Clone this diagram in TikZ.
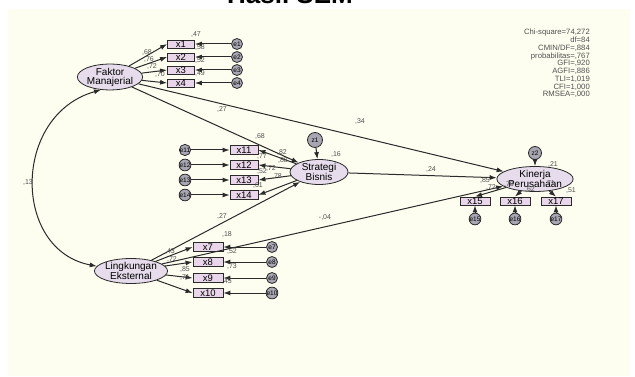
\documentclass[tikz,border=0pt]{standalone}
\usepackage{fontspec}
\setmainfont{Liberation Sans}
\usetikzlibrary{shapes.geometric,arrows.meta}
\definecolor{panel}{HTML}{FEFEF0}
\definecolor{latfill}{HTML}{E6DCEC}
\definecolor{obsfill}{HTML}{EAD6EA}
\definecolor{errfill}{HTML}{A8A6B2}
\definecolor{ln}{HTML}{2A2A2A}
\definecolor{numc}{HTML}{505050}
\begin{document}
\begin{tikzpicture}[x=1pt,y=-1pt,
  lat/.style={ellipse,draw=ln,line width=0.8pt,fill=latfill,inner sep=0pt,align=center,
    font=\fontsize{10}{9}\selectfont},
  obs/.style={rectangle,draw=ln,line width=0.8pt,fill=obsfill,inner sep=0pt,
    minimum width=28,minimum height=9,font=\fontsize{9.5}{9.5}\selectfont},
  err/.style={circle,draw=ln,line width=0.8pt,fill=errfill,inner sep=0pt,minimum size=11,
    font=\fontsize{6.5}{6.5}\selectfont},
  arr/.style={draw=ln,line width=1pt,-{Latex[length=7pt,width=5pt]}},
  darr/.style={draw=ln,line width=1pt,{Latex[length=7pt,width=5pt]}-{Latex[length=7pt,width=5pt]}},
  num/.style={inner sep=0pt,text=numc,font=\fontsize{7}{7}\selectfont},
]
\useasboundingbox (0,0) rectangle (635,377);
\fill[white] (0,0) rectangle (635,377);
\fill[panel] (8,9) rectangle (630,376);
\node[anchor=base,font=\fontsize{26}{26}\selectfont\bfseries] (title) at (290,4) {Hasil SEM};

% stats
\node[anchor=north east,align=right,inner sep=0pt,text=numc,font=\fontsize{7.7}{7.75}\selectfont] (stats) at (590,29)
 {Chi-square=74,272\\df=84\\CMIN/DF=,884\\probabilitas=,767\\GFI=,920\\AGFI=,886\\TLI=1,019\\CFI=1,000\\RMSEA=,000};

% latent variables
\node[lat,minimum width=56,minimum height=19] (F) at (110,77) {Faktor\\Manajerial};
\node[lat,minimum width=58,minimum height=20] (S) at (319,172) {Strategi\\Bisnis};
\node[lat,minimum width=60,minimum height=22] (L) at (131,271) {Lingkungan\\Eksternal};
\node[lat,minimum width=60,minimum height=18] (K) at (535,179) {Kinerja\\Perusahaan};
\node[err,minimum size=15] (z1) at (315,140) {z1};
\node[err,minimum size=13] (z2) at (535,153) {z2};

% Faktor Manajerial indicators
\foreach \i/\y in {1/44,2/57,3/70,4/83}{
  \node[obs,minimum width=27,minimum height=8] (x\i) at (181,\y) {x\i};
  \node[err] (e\i) at (237,\y) {e\i};
  \draw[arr] (e\i) -- (x\i);
  \draw[arr] (F) -- (x\i.west);
}
% Strategi Bisnis indicators
\foreach \i/\y in {11/150,12/165,13/180,14/195}{
  \node[obs] (x\i) at (244,\y) {x\i};
  \node[err] (e\i) at (185,\y) {e\i};
  \draw[arr] (e\i) -- (x\i);
  \draw[arr] (S) -- (x\i.east);
}
% Lingkungan Eksternal indicators
\foreach \i/\y in {7/247,8/262,9/278,10/293}{
  \node[obs,minimum width=30] (x\i) at (208,\y) {x\i};
  \node[err] (e\i) at (272,\y) {e\i};
  \draw[arr] (e\i) -- (x\i);
  \draw[arr] (L) -- (x\i.west);
}
% Kinerja Perusahaan indicators
\foreach \i/\x in {15/475,16/515,17/556}{
  \node[obs,minimum width=30,minimum height=8] (x\i) at (\x,201) {x\i};
  \node[err] (e\i) at (\x,219) {e\i};
  \draw[arr] (e\i) -- (x\i);
  \draw[arr] (K) -- (x\i.north);
}

% disturbances
\draw[arr] (z1) -- (S);
\draw[arr] (z2) -- (K);

% structural paths
\draw[arr] (F) -- (S);
\draw[arr] (F) -- (K);
\draw[arr] (S) -- (K);
\draw[arr] (L) -- (S);
\draw[arr] (L) -- (K);
\draw[darr] (F.235) .. controls (12,115) and (12,250) .. (L.172);

% path labels
\node[num] (p1) at (222,110) {,27};
\node[num] (p2) at (360,122) {,34};
\node[num] (p3) at (431,170) {,24};
\node[num] (p4) at (222,217) {,27};
\node[num] (p5) at (325,218) {-,04};
\node[num] (p6) at (28,183) {,13};
\node[num] (r1) at (336,155) {,16};
\node[num] (r2) at (553,165) {,21};

% Faktor labels
\node[num] (a1) at (196,35) {,47};
\node[num] (a2) at (147,53) {,68};
\node[num] (a3) at (149,60) {,76};
\node[num] (a4) at (152,67) {,72};
\node[num] (a5) at (160,75) {,70};
\node[num] (a6) at (200,48) {,58};
\node[num] (a7) at (200,61) {,52};
\node[num] (a8) at (200,74) {,49};

% Strategi labels
\node[num] (b1) at (260,137) {,68};
\node[num] (b2) at (282,153) {,82};
\node[num] (b3) at (283,161) {,88};
\node[num] (b4) at (271,169) {,72};
\node[num] (b5) at (277,177) {,78};
\node[num] (b6) at (262,157) {,77};
\node[num] (b7) at (262,172) {,52};
\node[num] (b8) at (258,186) {,61};

% Lingkungan labels
\node[num] (c1) at (227,235) {,18};
\node[num] (c2) at (170,252) {,43};
\node[num] (c3) at (172,260) {,72};
\node[num] (c4) at (185,270) {,85};
\node[num] (c5) at (185,278) {,71};
\node[num] (c6) at (232,252) {,52};
\node[num] (c7) at (232,267) {,73};
\node[num] (c8) at (227,282) {,45};

% Kinerja labels
\node[num] (d1) at (485,181) {,85};
\node[num] (d2) at (491,188) {,72};
\node[num] (d3) at (509,185) {,78};
\node[num] (d4) at (530,190) {,62};
\node[num] (d5) at (550,184) {,71};
\node[num] (d6) at (571,191) {,51};
\end{tikzpicture}
\end{document}
